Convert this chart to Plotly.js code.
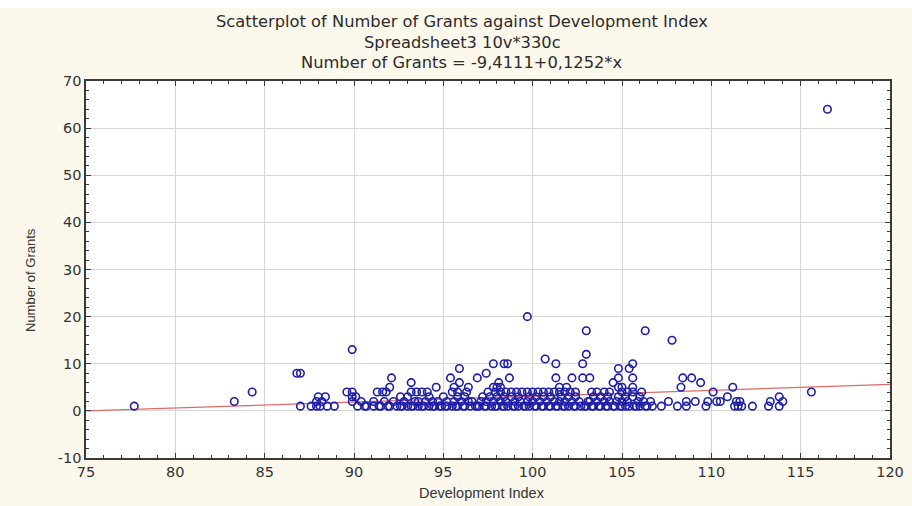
<!DOCTYPE html>
<html>
<head>
<meta charset="utf-8">
<script src="https://cdn.plot.ly/plotly-3.0.1.min.js"></script>
<style>html,body{margin:0;padding:0;background:#fcf8ec;}#chart{width:912px;height:506px;}</style>
</head>
<body>
<div id="chart"></div>
<script>
// Development Index values for each Number of Grants level
var grantLevels = [1, 2, 3, 4, 5, 6, 7, 8, 9, 10, 11, 12, 13, 15, 17, 20, 64];
var x_g1 = [77.7, 87.0, 87.6, 87.9, 88.1, 88.5, 88.9, 90.2, 90.6, 90.7, 91.1, 91.4, 91.5, 91.9, 92.0, 92.4, 92.6, 92.7, 93.0, 93.2, 93.3, 93.6, 93.8, 93.9, 94.2, 94.4, 94.5, 94.8, 94.9, 95.1, 95.2, 95.5, 95.7, 95.8, 96.1, 96.2, 96.5, 96.8, 96.9, 97.0, 97.3, 97.4, 97.7, 97.9, 98.0, 98.3, 98.4, 98.6, 98.9, 99.0, 99.2, 99.5, 99.6, 99.8, 100.1, 100.2, 100.5, 100.6, 100.9, 101.0, 101.3, 101.4, 101.7, 101.8, 102.0, 102.3, 102.4, 102.7, 102.9, 103.0, 103.3, 103.4, 103.7, 103.8, 104.1, 104.2, 104.5, 104.6, 104.9, 105.0, 105.2, 105.4, 105.7, 105.8, 106.0, 106.3, 106.4, 106.7, 107.2, 108.1, 108.6, 109.7, 111.3, 111.5, 111.7, 112.3, 113.2, 113.8];
var x_g2 = [83.3, 87.9, 88.2, 89.9, 90.4, 91.1, 91.7, 92.2, 92.8, 93.4, 93.6, 94.0, 94.4, 94.7, 95.2, 95.6, 96.0, 96.4, 96.6, 97.1, 97.4, 97.8, 98.2, 98.5, 99.0, 99.3, 99.7, 100.0, 100.4, 100.8, 101.2, 101.5, 101.8, 102.2, 102.6, 103.1, 103.2, 103.6, 104.0, 104.3, 104.7, 105.0, 105.3, 105.9, 106.2, 106.6, 107.6, 108.6, 109.1, 109.8, 110.3, 110.5, 111.4, 111.6, 113.3, 114.0];
var x_g3 = [88.0, 88.4, 89.9, 90.1, 92.6, 93.0, 94.2, 95.0, 95.8, 96.2, 97.2, 97.6, 98.0, 98.4, 98.8, 99.2, 99.8, 100.2, 100.6, 101.0, 101.6, 102.0, 102.4, 103.4, 103.8, 104.2, 104.8, 105.2, 105.6, 106.0, 110.9, 113.8];
var x_g4 = [84.3, 89.6, 89.9, 91.3, 91.6, 91.8, 93.2, 93.5, 93.8, 94.1, 95.5, 95.8, 96.3, 97.5, 97.9, 98.2, 98.5, 98.8, 99.1, 99.4, 99.7, 100.0, 100.3, 100.6, 100.9, 101.2, 101.5, 101.8, 102.1, 102.4, 103.3, 103.6, 104.0, 104.3, 105.0, 105.3, 105.6, 106.1, 110.1, 115.6];
var x_g5 = [92.0, 94.6, 95.6, 96.4, 97.8, 98.0, 98.2, 101.5, 101.9, 104.8, 105.0, 105.6, 108.3, 111.2];
var x_g6 = [93.2, 95.9, 98.1, 104.5, 109.4];
var x_g7 = [92.1, 95.4, 96.9, 98.7, 101.3, 102.2, 102.8, 103.2, 104.8, 105.6, 108.4, 108.9];
var x_g8 = [86.8, 87.0, 97.4];
var x_g9 = [95.9, 104.8, 105.4];
var x_g10 = [97.8, 98.4, 98.6, 101.3, 102.8, 105.6];
var x_g11 = [100.7];
var x_g12 = [103.0];
var x_g13 = [89.9];
var x_g15 = [107.8];
var x_g17 = [103.0, 106.3];
var x_g20 = [99.7];
var x_g64 = [116.5];
var groups = [x_g1, x_g2, x_g3, x_g4, x_g5, x_g6, x_g7, x_g8, x_g9, x_g10, x_g11, x_g12, x_g13, x_g15, x_g17, x_g20, x_g64];

// regression: Number of Grants = -9,4111 + 0,1252*x
var fitIntercept = -9.4111;
var fitSlope = 0.1252;
var xRange = [75, 120];
var yRange = [-10, 70];
var yTickVals = [-10, 0, 10, 20, 30, 40, 50, 60, 70];
var yTickText = ['-10', '0', '10', '20', '30', '40', '50', '60', '70'];
var titleLines = ['Scatterplot of Number of Grants against Development Index', 'Spreadsheet3 10v*330c', 'Number of Grants = -9,4111+0,1252*x'];

var px = [], py = [];
groups.forEach(function (g, i) {
  g.forEach(function (v) { px.push(v); py.push(grantLevels[i]); });
});

var fitX = xRange.slice();
var fitY = fitX.map(function (v) { return fitIntercept + fitSlope * v; });

var font = 'Liberation Sans, Arial, sans-serif';
var wideFont = 'DejaVu Sans, Liberation Sans, sans-serif';
var traces = [
  {x: fitX, y: fitY, mode: 'lines', line: {color: '#e06a6a', width: 1.2}, hoverinfo: 'skip'},
  {x: px, y: py, mode: 'markers', type: 'scatter',
   marker: {symbol: 'circle-open', size: 7.5, color: '#1e1ea8', line: {width: 1.6, color: '#1e1ea8'}}}
];

var axisCommon = {
  showline: true, linecolor: '#3a3a3a', linewidth: 1.6, mirror: 'ticks',
  ticks: 'inside', ticklen: 5, tickcolor: '#3a3a3a', tickwidth: 1,
  showgrid: true, gridcolor: '#d6d6d6', gridwidth: 1, zeroline: false,
  tickfont: {family: wideFont, size: 14.5, color: '#333'}
};

// plot area: 81..458 px vertically, 86..890 horizontally
var plotH = 377;
function paperY(pix) { return (458 - pix) / plotH; }

var annotations = titleLines.map(function (t, i) {
  return {text: t, xref: 'paper', yref: 'paper', x: (462 - 86) / 804, y: paperY([22, 42, 62][i]),
          xanchor: 'center', yanchor: 'middle', showarrow: false,
          font: {family: wideFont, size: 16.3, color: '#2c2c2c'}};
});
annotations.push(
  {text: 'Development Index', xref: 'paper', yref: 'paper', x: (482 - 86) / 804, y: paperY(493),
   xanchor: 'center', yanchor: 'middle', showarrow: false,
   font: {family: font, size: 14.5, color: '#333'}},
  {text: 'Number of Grants', xref: 'paper', yref: 'paper', x: (30 - 86) / 804, y: paperY(280),
   xanchor: 'center', yanchor: 'middle', textangle: -90, showarrow: false,
   font: {family: font, size: 13, color: '#333'}}
);

var layout = {
  width: 912, height: 506,
  paper_bgcolor: '#fcf8ec', plot_bgcolor: '#ffffff',
  margin: {l: 86, r: 22, t: 81, b: 48},
  showlegend: false,
  xaxis: Object.assign({}, axisCommon, {range: xRange, dtick: 5, tick0: 75,
          minor: {dtick: 1, ticks: 'inside', ticklen: 3, tickcolor: '#3a3a3a', showgrid: false}}),
  yaxis: Object.assign({}, axisCommon, {range: yRange, tickmode: 'array', tickvals: yTickVals, ticktext: yTickText,
          minor: {dtick: 2, tick0: 0, ticks: 'inside', ticklen: 3, tickcolor: '#3a3a3a', showgrid: false}}),
  shapes: [
    {type: 'rect', xref: 'paper', yref: 'paper', x0: -0.12, x1: 1.05, y0: paperY(8), y1: paperY(-2),
     fillcolor: '#ffffff', line: {width: 0}, layer: 'above'}
  ],
  annotations: annotations
};

Plotly.newPlot('chart', traces, layout, {displayModeBar: false, staticPlot: true});
</script>
</body>
</html>
